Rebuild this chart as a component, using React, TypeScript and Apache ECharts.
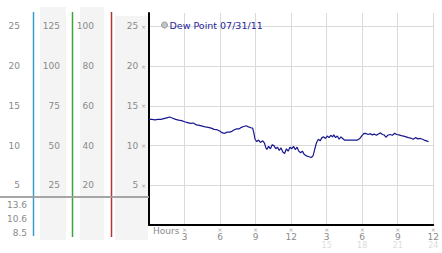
import React, { useEffect, useRef } from "react";
import * as echarts from "echarts";

const seriesName = "Dew Point 07/31/11";
// [hour of day, dew point °C]
const dewPoint: [number, number][] = [
  [0, 13.3], [0.25, 13.3], [0.5, 13.25], [0.75, 13.3], [1, 13.3], [1.25, 13.4], [1.5, 13.5], [1.75, 13.6],
  [2, 13.45], [2.25, 13.3], [2.5, 13.2], [2.75, 13.15], [3, 13.0], [3.25, 12.9], [3.5, 12.8], [3.75, 12.85],
  [4, 12.6], [4.25, 12.55], [4.5, 12.45], [4.75, 12.35], [5, 12.3], [5.25, 12.2], [5.5, 12.05], [5.75, 12.0],
  [6, 11.8], [6.2, 11.6], [6.4, 11.55], [6.6, 11.7], [6.8, 11.7], [7, 11.8], [7.2, 12.0], [7.4, 12.1],
  [7.6, 12.1], [7.8, 12.3], [8, 12.4], [8.2, 12.5], [8.4, 12.35], [8.6, 12.25], [8.75, 12.2], [8.85, 11.6],
  [8.95, 10.8], [9.1, 10.5], [9.25, 10.7], [9.4, 10.4], [9.6, 10.6], [9.75, 10.3], [9.85, 9.8], [9.95, 9.5],
  [10.1, 9.9], [10.25, 9.6], [10.4, 10.1], [10.55, 10.0], [10.7, 9.6], [10.85, 9.8], [11, 9.4], [11.15, 9.7],
  [11.3, 9.2], [11.45, 9.0], [11.6, 9.6], [11.75, 9.3], [11.9, 9.8], [12.05, 9.6], [12.2, 9.9], [12.35, 9.5],
  [12.5, 9.8], [12.65, 9.3], [12.8, 9.1], [12.95, 9.3], [13.1, 8.9], [13.3, 8.7], [13.5, 8.6], [13.7, 8.5],
  [13.85, 8.7], [14, 9.6], [14.15, 10.4], [14.3, 10.8], [14.45, 10.6], [14.6, 11.0], [14.75, 11.1], [14.9, 10.9],
  [15.05, 11.2], [15.2, 11.0], [15.35, 11.3], [15.5, 11.1], [15.6, 11.35], [15.75, 11.0], [15.9, 11.2], [16.05, 10.8],
  [16.2, 11.1], [16.35, 10.9], [16.5, 10.7], [16.7, 10.7], [17, 10.7], [17.3, 10.7], [17.6, 10.7], [17.8, 10.9],
  [18, 11.3], [18.15, 11.55], [18.35, 11.5], [18.5, 11.4], [18.7, 11.5], [18.85, 11.35], [19, 11.45], [19.2, 11.3],
  [19.4, 11.5], [19.55, 11.6], [19.7, 11.4], [19.85, 11.35], [20, 11.05], [20.15, 11.3], [20.35, 11.4], [20.55, 11.3],
  [20.75, 11.55], [20.9, 11.4], [21.1, 11.35], [21.3, 11.25], [21.5, 11.2], [21.7, 11.1], [21.9, 11.0], [22.1, 10.95],
  [22.3, 10.8], [22.5, 11.0], [22.7, 10.85], [22.9, 10.9], [23.1, 10.8], [23.3, 10.65], [23.6, 10.5],
];
const statLabels = ["13.6", "10.6", "8.5"]; // max, average, min
const yMax = 26.7;
const yInterval = 5;
const hourMax = 24;
const hourInterval = 3;

const FONT = "DejaVu Sans";
const GRAY = "#8a8a8a";
const MARK = "×";

const App: React.FC = () => {
  const ref = useRef<HTMLDivElement>(null);
  useEffect(() => {
    if (!ref.current) return;
    const chart = echarts.init(ref.current, undefined, { renderer: "svg" });
    const sideAxis = (offset: number, factor: number) => ({
      type: "value" as const,
      position: "left" as const,
      offset,
      min: 0,
      max: yMax * factor,
      interval: yInterval * factor,
      axisLine: { show: false },
      axisTick: { show: false },
      splitLine: { show: false },
      axisLabel: {
        margin: 0,
        showMinLabel: false,
        showMaxLabel: false,
        color: GRAY,
        fontSize: 9,
        fontFamily: FONT,
      },
    });
    chart.setOption({
      animation: false,
      backgroundColor: "#ffffff",
      textStyle: { fontFamily: FONT },
      grid: { left: 149, right: 3.5, top: 13, bottom: 28, containLabel: false },
      legend: {
        left: 156,
        top: 15,
        icon: "circle",
        itemWidth: 6,
        itemHeight: 6,
        textStyle: { color: "#1f1f9a", fontSize: 9.5, fontFamily: FONT, padding: [0, 0, 0, -3] },
        data: [
          {
            name: seriesName,
            itemStyle: { color: "#c4c4c4", borderColor: "#9a9a9a", borderWidth: 1 },
          },
        ],
      },
      xAxis: {
        type: "value",
        min: 0,
        max: hourMax,
        interval: hourInterval,
        axisLine: { show: true, lineStyle: { color: "#000", width: 2 } },
        axisTick: { show: false },
        splitLine: { show: true, showMinLine: false, lineStyle: { color: "#dadada", width: 1 } },
        axisLabel: {
          margin: 1,
          showMinLabel: false,
          showMaxLabel: true,
          formatter: (v: number) => {
            if (v === 0) return "";
            const top = v <= 12 ? v : v - 12;
            const sub = v > 12 ? String(v) : " ";
            return `{m|${MARK}}\n{v|${top}}\n{f|${sub}}`;
          },
          rich: {
            m: { fontSize: 6, lineHeight: 6, color: "#a0a0a0", fontFamily: FONT },
            v: { fontSize: 9, lineHeight: 9, color: GRAY, fontFamily: FONT },
            f: { fontSize: 8, lineHeight: 8, color: "#dcdcdc", fontFamily: FONT },
          },
        },
      },
      yAxis: [
        {
          type: "value",
          position: "left",
          min: 0,
          max: yMax,
          interval: yInterval,
          axisLine: { show: true, lineStyle: { color: "#000", width: 2 } },
          axisTick: { show: false },
          splitLine: {
            show: true,
            showMinLine: false,
            showMaxLine: false,
            lineStyle: { color: "#dadada", width: 1 },
          },
          axisLabel: {
            margin: 3,
            showMinLabel: false,
            showMaxLabel: false,
            formatter: (v: number) => `{v|${v}}{g| }{m|${MARK}}`,
            rich: {
              v: { fontSize: 9, color: GRAY, fontFamily: FONT },
              g: { fontSize: 9, fontFamily: FONT },
              m: { fontSize: 6, color: "#a0a0a0", fontFamily: FONT },
            },
          },
        },
        sideAxis(129, 1),
        sideAxis(89, 5),
        sideAxis(55, 4),
      ],
      series: [
        {
          name: seriesName,
          type: "line",
          data: dewPoint,
          showSymbol: false,
          symbol: "none",
          lineStyle: { color: "#17178f", width: 1.2 },
          itemStyle: { color: "#17178f" },
        },
      ],
      graphic: [
        { type: "rect", z: -10, shape: { x: 40, y: 7, width: 26, height: 233 }, style: { fill: "#f4f4f4" } },
        { type: "rect", z: -10, shape: { x: 80, y: 7, width: 24, height: 233 }, style: { fill: "#f4f4f4" } },
        { type: "rect", z: -10, shape: { x: 115, y: 16, width: 33, height: 224 }, style: { fill: "#f4f4f4" } },
        { type: "line", z: 1, shape: { x1: 33.5, y1: 12, x2: 33.5, y2: 236 }, style: { stroke: "#3a9fc8", lineWidth: 1.5 } },
        { type: "line", z: 1, shape: { x1: 72.5, y1: 12, x2: 72.5, y2: 237 }, style: { stroke: "#3aa53a", lineWidth: 1.5 } },
        { type: "line", z: 1, shape: { x1: 111.5, y1: 12, x2: 111.5, y2: 237 }, style: { stroke: "#b03535", lineWidth: 1.5 } },
        { type: "line", z: 2, shape: { x1: 0, y1: 197, x2: 149, y2: 197 }, style: { stroke: "#9c9c9c", lineWidth: 2, opacity: 0.9 } },
        ...statLabels.map((s, i) => ({
          type: "text",
          z: 3,
          x: 27,
          y: 204.5 + i * 14,
          style: { text: s, fill: GRAY, fontSize: 9, fontFamily: FONT, align: "right", verticalAlign: "middle" },
        })),
        {
          type: "text",
          z: 3,
          x: 153,
          y: 231,
          style: { text: "Hours", fill: GRAY, fontSize: 9, fontFamily: FONT, align: "left", verticalAlign: "middle" },
        },
      ],
    });
    return () => chart.dispose();
  }, []);
  return (
    <div
      ref={ref}
      style={{ position: "fixed", left: 0, top: 0, width: 442, height: 253, background: "#fff" }}
    />
  );
};

export default App;
